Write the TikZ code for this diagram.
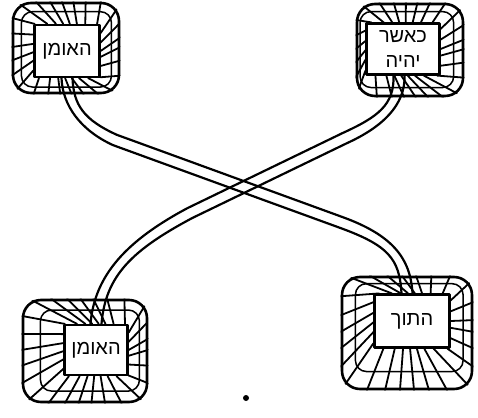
\documentclass[tikz,border=0pt]{standalone}
\usepackage{fontspec}
\newfontfamily\hebfont[Script=Hebrew]{Liberation Sans}
\TeXXeTstate=1
\usetikzlibrary{calc}

% one plaque: name, outer centre, outer w/h, panel centre, panel w/h, text
\newcommand{\plaque}[8]{%
  \node[ring, minimum width=#3pt, minimum height=#4pt] (#1) at (#2) {};
  \node[panel, minimum width=#6pt, minimum height=#7pt] (#1in) at (#5) {#8};
  \draw[midring] ($(#1.south west)!0.45!(#1in.south west)$)
    rectangle ($(#1.north east)!0.45!(#1in.north east)$);
  \begin{scope}
    \clip[rounded corners=18pt] (#1.south west) rectangle (#1.north east);
    \foreach \a [evaluate=\a as \b using int(\a+11)] in {0,14,...,350}
      \draw[strand] (#1in.\a) -- (#1.\b);
  \end{scope}
}

\begin{document}
\begin{tikzpicture}[
  x=1pt,
  y=-1pt,
  line cap=round,
  line join=round,
  ring/.style={draw, line width=2.6pt, rounded corners=18pt, inner sep=0pt},
  midring/.style={line width=1.5pt, rounded corners=11pt},
  panel/.style={draw, line width=2.2pt, inner sep=0pt, align=center,
    font=\hebfont\fontsize{20}{25}\selectfont},
  strand/.style={line width=1.8pt},
  edge/.style={line width=2.2pt}
]
\useasboundingbox (0,0) rectangle (478,417);

% the four framed plaques
\plaque{tl}{66,48}{106}{90}{67,51}{65}{52}{\beginR האומן\endR}
\plaque{tr}{410,50}{106}{92}{403,49}{73}{51}{\beginR כאשר\endR\\\beginR יהיה\endR}
\plaque{bl}{85,351}{124}{102}{96,350}{63}{50}{\beginR האומן\endR}
\plaque{br}{407,333}{130}{112}{412,321}{75}{53}{\beginR התוך\endR}

% ribbon from the upper left plaque down to the lower right one
\draw[edge] ([xshift=5.5pt]tlin.south) .. controls (73.5,105) and (83.87,119.83) .. (116.87,134.83)
  -- (341.87,216.83) .. controls (391.87,234.83) and (410.49,257.7) .. ([xshift=0.5pt]brin.north);
\draw[edge] ([xshift=-5.5pt]tlin.south) .. controls (62.5,105) and (80.13,130.17) .. (113.13,145.17)
  -- (338.13,227.17) .. controls (388.13,245.17) and (399.51,258.3) .. ([xshift=-10.5pt]brin.north);

% ribbon from the upper right plaque down to the lower left one
\draw[edge] ([xshift=-9.5pt]trin.south) .. controls (394.5,105) and (377.6,117.05) .. (342.6,133.05)
  -- (187.6,208.05) .. controls (127.6,240.05) and (94.52,274.56) .. ([xshift=-5.5pt]blin.north);
\draw[edge] ([xshift=1.5pt]trin.south) .. controls (405.5,105) and (382.4,126.95) .. (347.4,142.95)
  -- (192.4,217.95) .. controls (132.4,249.95) and (105.48,275.44) .. ([xshift=5.5pt]blin.north);

% ink spot
\fill (246,398) circle (3pt);
\end{tikzpicture}
\end{document}
